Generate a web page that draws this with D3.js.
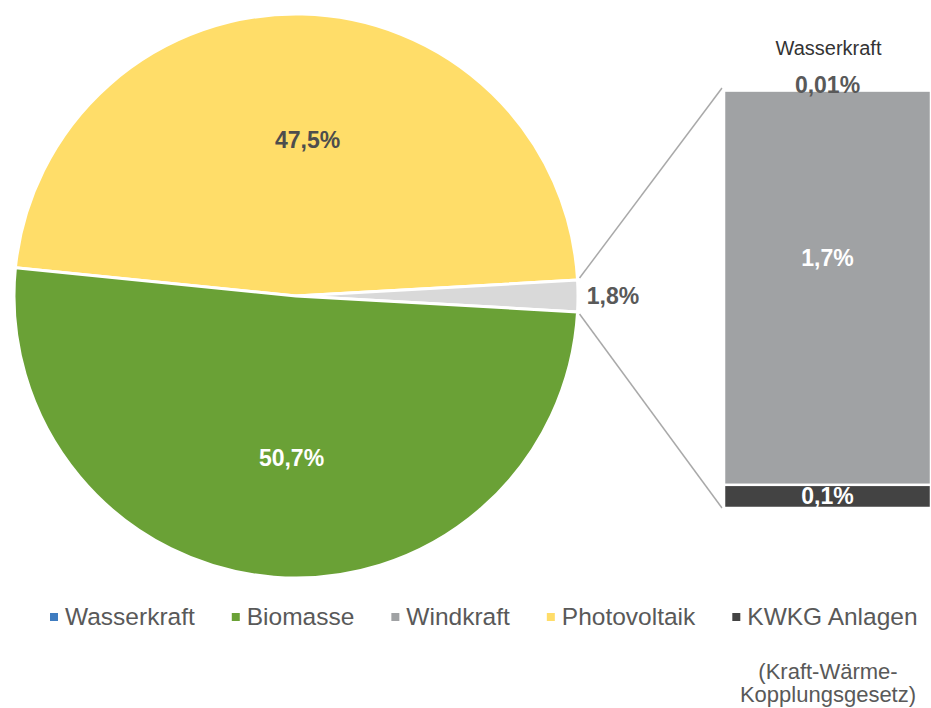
<!DOCTYPE html>
<html>
<head>
<meta charset="utf-8">
<script src="https://cdn.jsdelivr.net/npm/d3@7"></script>
<style>
  html, body { margin: 0; padding: 0; background: #fff; }
  svg { display: block; font-family: "Liberation Sans", Arial, sans-serif; }
</style>
</head>
<body>
<svg id="chart" width="931" height="708"></svg>
<script>
// Pie slices (share of total, %)
const pieCategories = ["Photovoltaik", "Sonstige", "Biomasse"];
const pieValues = [47.5, 1.8, 50.7];
const pieLabels = ["47,5%", "1,8%", "50,7%"];

// Breakdown of the small slice, stacked bottom to top
const barCategories = ["KWKG Anlagen", "Windkraft", "Wasserkraft"];
const barValues = [0.1, 1.7, 0.01];
const barLabels = ["0,1%", "1,7%", "0,01%"];

// Legend entries
const legendItems = ["Wasserkraft", "Biomasse", "Windkraft", "Photovoltaik", "KWKG Anlagen"];
const footnoteLines = ["(Kraft-Wärme-", "Kopplungsgesetz)"];

const colors = {
  "Wasserkraft": "#3f7cc0",
  "Biomasse": "#6aa136",
  "Windkraft": "#a0a2a4",
  "Photovoltaik": "#ffdd69",
  "KWKG Anlagen": "#434343",
  "Sonstige": "#d9d9d9"
};

const svg = d3.select("#chart");
const cx = 296, cy = 296, r = 282;

// ---- Pie: "Sonstige" is centred at 3 o'clock ----
const total = d3.sum(pieValues);
const otherShare = pieValues[1] / total * 2 * Math.PI;
const pvShare = pieValues[0] / total * 2 * Math.PI;
const a0 = Math.PI / 2 - otherShare / 2 - pvShare;
const pie = d3.pie().sort(null).value(d => d.value)
  .startAngle(a0).endAngle(a0 + 2 * Math.PI);
const pieData = pie(pieCategories.map((c, i) => ({ cat: c, value: pieValues[i], label: pieLabels[i] })));

const arc = d3.arc().innerRadius(0).outerRadius(r);
const labelArc = d3.arc().innerRadius(r * 0.565).outerRadius(r * 0.565);

const g = svg.append("g").attr("transform", `translate(${cx},${cy})`);
g.selectAll("path.slice").data(pieData).join("path")
  .attr("class", "slice")
  .attr("d", arc)
  .attr("fill", d => colors[d.data.cat])
  .attr("stroke", "#fff")
  .attr("stroke-width", 3)
  .attr("stroke-linejoin", "round");

// ---- Stacked bar for the small slice ----
const barX0 = 724, barX1 = 931;
const barTop = 88, barBottom = 508;
const y = d3.scaleLinear().domain([0, d3.sum(barValues)]).range([barBottom, barTop]);
let acc = 0;
const barData = barCategories.map((c, i) => {
  const d = { cat: c, y0: acc, y1: acc + barValues[i], label: barLabels[i] };
  acc += barValues[i];
  return d;
});

// connector lines from slice edges to bar corners
const sonst = pieData[1];
const edge = a => [cx + r * Math.sin(a), cy - r * Math.cos(a)];
const pTop = edge(sonst.startAngle), pBot = edge(sonst.endAngle);
svg.append("line").attr("x1", pTop[0] + 2).attr("y1", pTop[1] - 2)
  .attr("x2", barX0 - 2).attr("y2", y(d3.sum(barValues)))
  .attr("stroke", "#a9a9a9").attr("stroke-width", 1.5);
svg.append("line").attr("x1", pBot[0] + 2).attr("y1", pBot[1] + 2)
  .attr("x2", barX0 - 2).attr("y2", y(0))
  .attr("stroke", "#a9a9a9").attr("stroke-width", 1.5);

svg.selectAll("rect.seg").data(barData).join("rect")
  .attr("class", "seg")
  .attr("x", barX0)
  .attr("width", barX1 - barX0)
  .attr("y", d => y(d.y1))
  .attr("height", d => Math.max(0, y(d.y0) - y(d.y1)))
  .attr("fill", d => colors[d.cat])
  .attr("stroke", "#fff")
  .attr("stroke-width", 2.5);

// ---- Value labels ----
g.selectAll("text.pl").data(pieData.filter(d => d.data.cat !== "Sonstige")).join("text")
  .attr("class", "pl")
  .attr("x", d => labelArc.centroid(d)[0] + 8)
  .attr("y", d => labelArc.centroid(d)[1] + 11)
  .attr("text-anchor", "middle")
  .attr("font-size", 23).attr("font-weight", "bold")
  .attr("fill", d => d.data.cat === "Biomasse" ? "#fff" : "#4d4d4d")
  .text(d => d.data.label);

svg.append("text")
  .attr("x", 613).attr("y", 304)
  .attr("text-anchor", "middle")
  .attr("font-size", 23).attr("font-weight", "bold").attr("fill", "#595959")
  .text(sonst.data.label);

const barMid = (barX0 + barX1) / 2;
// Windkraft and KWKG labels inside their segments
svg.selectAll("text.bl").data(barData.slice(0, 2)).join("text")
  .attr("class", "bl")
  .attr("x", barMid)
  .attr("y", (d, i) => i === 0 ? (y(d.y0) + y(d.y1)) / 2 + 8 : 266)
  .attr("text-anchor", "middle")
  .attr("font-size", 23).attr("font-weight", "bold").attr("fill", "#fff")
  .text(d => d.label);
// Wasserkraft: label on the top edge with its name above
const wk = barData[2];
svg.append("text")
  .attr("x", barMid).attr("y", y(wk.y1) + 5)
  .attr("text-anchor", "middle")
  .attr("font-size", 23).attr("font-weight", "bold").attr("fill", "#595959")
  .text(wk.label);
svg.append("text")
  .attr("x", barMid + 1).attr("y", 55)
  .attr("text-anchor", "middle")
  .attr("font-size", 20).attr("fill", "#333")
  .text(wk.cat);

// ---- Legend ----
const legend = svg.append("g");
let lx = 50;
legendItems.forEach(name => {
  legend.append("rect")
    .attr("x", lx).attr("y", 613).attr("width", 8).attr("height", 8)
    .attr("fill", colors[name]);
  const t = legend.append("text")
    .attr("x", lx + 15).attr("y", 625)
    .attr("font-size", 24.5).attr("fill", "#595959")
    .text(name);
  lx += 15 + t.node().getComputedTextLength() + 37;
});

svg.selectAll("text.fn").data(footnoteLines).join("text")
  .attr("class", "fn")
  .attr("x", 828)
  .attr("y", (d, i) => 679 + i * 23)
  .attr("text-anchor", "middle")
  .attr("font-size", 22).attr("fill", "#595959")
  .text(d => d);
</script>
</body>
</html>
